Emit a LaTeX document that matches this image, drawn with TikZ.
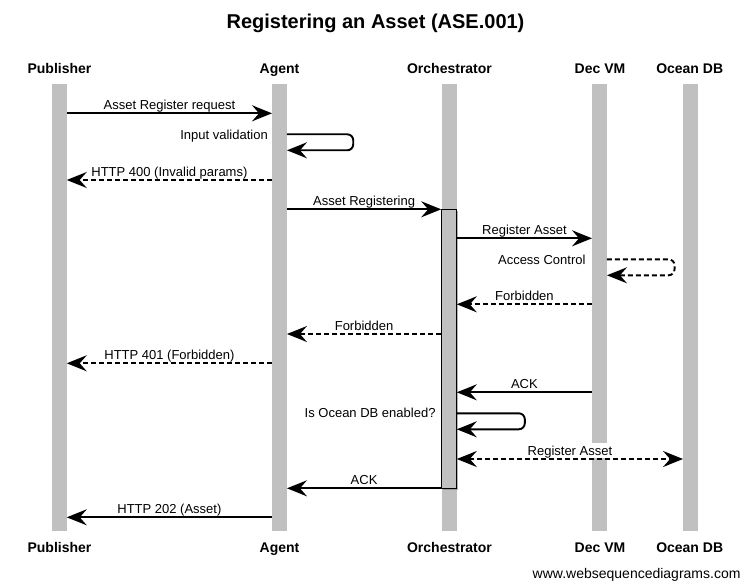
\documentclass[tikz,border=0pt]{standalone}
\usepackage{fontspec}
\setmainfont{Liberation Sans}
\usetikzlibrary{arrows.meta,shadows}
\definecolor{lifegray}{HTML}{C0C0C0}
\tikzset{wsd/.tip={Stealth[length=20pt, width=16pt, inset=7pt]}}
\begin{document}
\begin{tikzpicture}[x=1pt,y=-1pt,
  life/.style={rectangle, fill=lifegray, inner sep=0, minimum width=14.5pt, minimum height=446.2pt},
  act/.style={rectangle, fill=lifegray, draw=black, line width=1pt, inner sep=0, minimum width=14.6pt, minimum height=279pt, drop shadow={shadow xshift=1.2pt, shadow yshift=-1.2pt, opacity=0.6}},
  actor/.style={font=\fontsize{14}{16}\selectfont\bfseries, anchor=base, inner sep=0},
  lbl/.style={font=\fontsize{13}{15}\selectfont, inner sep=0},
  msg/.style={line width=1.9pt, -wsd},
  reply/.style={msg, dash pattern=on 5pt off 3pt}]
\fill[white] (0,0) rectangle (749,588);
\useasboundingbox (0,0) rectangle (749,588);
\node[font=\fontsize{20}{24}\selectfont\bfseries, anchor=base, inner sep=0] (title) at (375.5,28.3){Registering an Asset (ASE.001)};
\node[life] (pub) at (59.3,307.6){};
\node[life] (agent) at (279.5,307.6){};
\node[life] (orch) at (449.5,307.6){};
\node[life] (decvm) at (599.5,307.6){};
\node[life] (oceandb) at (690.5,307.6){};
\node[actor] (pubtop) at (59.5,73.3){Publisher};
\node[actor] (agenttop) at (279.5,73.3){Agent};
\node[actor] (orchtop) at (449.5,73.3){Orchestrator};
\node[actor] (decvmtop) at (600,73.3){Dec VM};
\node[actor] (oceandbtop) at (689.7,73.3){Ocean DB};
\node[actor] (pubbot) at (59.5,552.3){Publisher};
\node[actor] (agentbot) at (279.5,552.3){Agent};
\node[actor] (orchbot) at (449.5,552.3){Orchestrator};
\node[actor] (decvmbot) at (600,552.3){Dec VM};
\node[actor] (oceandbbot) at (689.7,552.3){Ocean DB};
\node[act] (orchact) at (449,348.8){};
\draw[msg] (pub.east |- 0,113.3) -- node[lbl, anchor=base, yshift=3.7pt]{Asset Register request} (agent.west |- 0,113.3);
\node[lbl, anchor=base east] (valtext) at (268,139.3){Input validation};
\draw[msg, rounded corners=6pt] (agent.east |- 0,134.3) -- ++(66.3,0) -- ++(0,16) -- (agent.east |- 0,150.3);
\draw[reply] (agent.west |- 0,180) -- node[lbl, anchor=base, yshift=3.7pt]{HTTP 400 (Invalid params)} (pub.east |- 0,180);
\draw[msg] (agent.east |- 0,209.3) -- node[lbl, anchor=base, yshift=3.7pt]{Asset Registering} (orchact.west |- 0,209.3);
\draw[msg] (orchact.east |- 0,238.3) -- node[lbl, anchor=base, yshift=3.5pt]{Register Asset} (decvm.west |- 0,238.3);
\node[lbl, anchor=base east] (acctext) at (585.7,264){Access Control};
\draw[reply, rounded corners=6pt] (decvm.east |- 0,259.3) -- ++(67.6,0) -- ++(0,16) -- (decvm.east |- 0,275.3);
\draw[reply] (decvm.west |- 0,304.3) -- node[lbl, anchor=base, yshift=3.5pt]{Forbidden} (orchact.east |- 0,304.3);
\draw[reply] (orchact.west |- 0,334) -- node[lbl, anchor=base, yshift=3.5pt]{Forbidden} (agent.east |- 0,334);
\draw[reply] (agent.west |- 0,363.3) -- node[lbl, anchor=base, yshift=3.7pt]{HTTP 401 (Forbidden)} (pub.east |- 0,363.3);
\draw[msg] (decvm.west |- 0,392.3) -- node[lbl, anchor=base, yshift=3.5pt]{ACK} (orchact.east |- 0,392.3);
\node[lbl, anchor=base east] (dbtext) at (435.7,417.7){Is Ocean DB enabled?};
\draw[msg, rounded corners=6pt] (orchact.east |- 0,413.3) -- ++(68,0) -- ++(0,16) -- (orchact.east |- 0,429.3);
\draw[reply, wsd-wsd] (orchact.east |- 0,459) -- node[lbl, anchor=base, yshift=3.5pt, fill=white, text height=12.5pt, text depth=2pt]{Register Asset} (oceandb.west |- 0,459);
\draw[msg] (orchact.west |- 0,488.3) -- node[lbl, anchor=base, yshift=3.5pt]{ACK} (agent.east |- 0,488.3);
\draw[msg] (agent.west |- 0,517.3) -- node[lbl, anchor=base, yshift=3.7pt]{HTTP 202 (Asset)} (pub.east |- 0,517.3);
\node[font=\fontsize{14}{16}\selectfont, anchor=base east, inner sep=0] (footer) at (740.7,578){www.websequencediagrams.com};
\end{tikzpicture}
\end{document}
